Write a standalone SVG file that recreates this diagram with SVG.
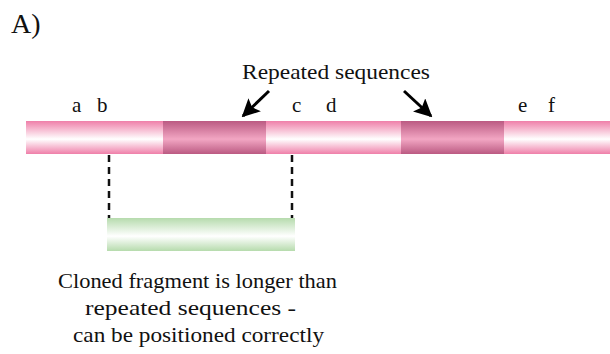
<svg xmlns="http://www.w3.org/2000/svg" width="610" height="354" viewBox="0 0 610 354">
<defs>
<linearGradient id="pink" x1="0" y1="0" x2="0" y2="1">
<stop offset="0" stop-color="#ef7fa9"/>
<stop offset="0.55" stop-color="#ffffff"/>
<stop offset="1" stop-color="#ef7fa9"/>
</linearGradient>
<linearGradient id="dark" x1="0" y1="0" x2="0" y2="1">
<stop offset="0" stop-color="#bb5a82"/>
<stop offset="0.55" stop-color="#f2a6c3"/>
<stop offset="1" stop-color="#bb5a82"/>
</linearGradient>
<linearGradient id="green" x1="0" y1="0" x2="0" y2="1">
<stop offset="0" stop-color="#b6dbad"/>
<stop offset="0.55" stop-color="#ffffff"/>
<stop offset="1" stop-color="#b6dbad"/>
</linearGradient>
<marker id="ah" viewBox="0 0 10 10" refX="9" refY="5" markerWidth="6" markerHeight="6" markerUnits="strokeWidth" orient="auto">
<path d="M0,0 L10,5 L0,10 L2,5 z" fill="#000"/>
</marker>
</defs>
<style>
text{font-family:"Liberation Serif","DejaVu Serif",serif;fill:#111}
.lab{font-size:21px}
.big{font-size:28px}
.arr{stroke:#000;stroke-width:3;fill:none}
.dash{stroke:#111;stroke-width:2.5;stroke-dasharray:7,5;fill:none}
</style>
<text class="big" x="11" y="33">A)</text>
<g id="chromosome">
<rect x="26" y="121" width="584" height="33" fill="url(#pink)"/>
<rect x="163" y="121" width="103" height="33" fill="url(#dark)"/>
<rect x="401" y="121" width="103" height="33" fill="url(#dark)"/>
</g>
<g id="fragment">
<rect x="107" y="218" width="188" height="33" fill="url(#green)"/>
</g>
<g id="connectors">
<line class="dash" x1="109" y1="155" x2="109" y2="218"/>
<line class="dash" x1="292" y1="155" x2="292" y2="218"/>
<line class="arr" x1="269" y1="91" x2="243" y2="116" marker-end="url(#ah)"/>
<line class="arr" x1="404" y1="91" x2="431" y2="116" marker-end="url(#ah)"/>
</g>
<g id="labels">
<text class="lab" x="242" y="79" textLength="188" lengthAdjust="spacingAndGlyphs">Repeated sequences</text>
<text class="lab" x="72" y="112">a</text>
<text class="lab" x="97" y="112">b</text>
<text class="lab" x="292" y="112">c</text>
<text class="lab" x="326" y="112">d</text>
<text class="lab" x="518" y="112">e</text>
<text class="lab" x="548" y="112">f</text>
<text class="lab" x="58" y="288" textLength="279" lengthAdjust="spacingAndGlyphs">Cloned fragment is longer than</text>
<text class="lab" x="85" y="315" textLength="211" lengthAdjust="spacingAndGlyphs">repeated sequences -</text>
<text class="lab" x="73" y="342" textLength="251" lengthAdjust="spacingAndGlyphs">can be positioned correctly</text>
</g>
</svg>
